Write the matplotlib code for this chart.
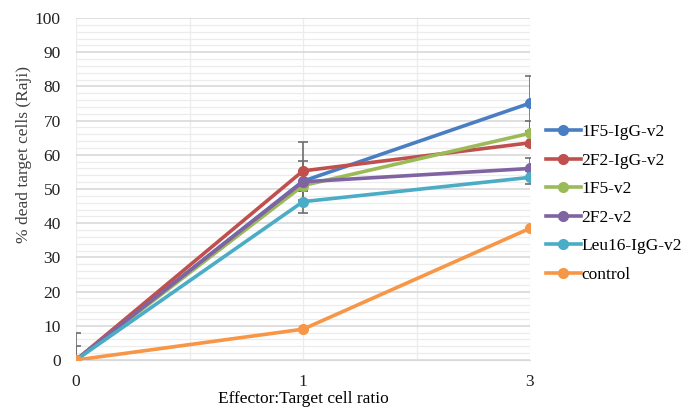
import matplotlib
matplotlib.use("Agg")
import matplotlib.pyplot as plt
from matplotlib.ticker import MultipleLocator
import numpy as np

ratios = ["0", "1", "3"]
series_names = ["1F5-IgG-v2", "2F2-IgG-v2", "1F5-v2", "2F2-v2", "Leu16-IgG-v2", "control"]
v_1F5_IgG = [0, 52.3, 75.1]
v_2F2_IgG = [0, 55.3, 63.5]
v_1F5 = [0, 51.0, 66.3]
v_2F2 = [0, 52.1, 56.0]
v_Leu16 = [0, 46.3, 53.4]
v_control = [0, 9.0, 38.5]
e_1F5_IgG = [8.0, 6.0, 8.0]
e_2F2_IgG = [4.0, 8.5, 0]
e_1F5 = [0, 0, 3.6]
e_2F2 = [0, 2.7, 3.0]
e_Leu16 = [0, 3.2, 2.0]
e_control = [0, 0, 0]

values = [v_1F5_IgG, v_2F2_IgG, v_1F5, v_2F2, v_Leu16, v_control]
errors = [e_1F5_IgG, e_2F2_IgG, e_1F5, e_2F2, e_Leu16, e_control]
colors = ["#4A7EC2", "#C0504D", "#9BBB59", "#8064A2", "#4BACC6", "#F79646"]

plt.rcParams['font.family'] = ['Liberation Serif', 'DejaVu Serif']

fig = plt.figure(figsize=(6.95, 4.12), dpi=100)
ax = fig.add_axes([76/695, 52/412, 454/695, 342/412])

x = np.arange(len(ratios))
for vals, errs in zip(values, errors):
    ax.errorbar(x, vals, yerr=errs, fmt='none', ecolor='#6e6e6e', elinewidth=1.2,
                capsize=3.5, capthick=1.2, zorder=2)
for name, vals, c in zip(series_names, values, colors):
    ax.plot(x, vals, color=c, lw=2.6, marker='o', ms=7, label=name, zorder=3)

ax.set_xlim(0, 2)
ax.set_ylim(0, 100)
ax.set_xticks(x)
ax.set_xticklabels(ratios)
ax.xaxis.set_minor_locator(MultipleLocator(0.5))
ax.yaxis.set_major_locator(MultipleLocator(10))
ax.yaxis.set_minor_locator(MultipleLocator(2))
ax.grid(which='major', axis='y', color='#d9d9d9', lw=1.2, zorder=0)
ax.grid(which='minor', axis='y', color='#ececec', lw=0.9, zorder=0)
ax.grid(which='both', axis='x', color='#ececec', lw=0.9, zorder=0)
ax.set_axisbelow(True)
for s in ax.spines.values():
    s.set_visible(False)
ax.spines['bottom'].set_visible(True)
ax.spines['bottom'].set_color('#d9d9d9')
ax.tick_params(which='both', length=0)
ax.tick_params(axis='y', labelsize=12.5, pad=11)
ax.tick_params(axis='x', labelsize=12.5, pad=10)
ax.set_ylabel('% dead target cells (Raji)', fontsize=12.5, color='#404040')
ax.yaxis.set_label_coords(-0.098, 0.60)
ax.set_xlabel('Effector:Target cell ratio', fontsize=12.5, labelpad=1)
for lab in ax.get_xticklabels() + ax.get_yticklabels():
    lab.set_color('#222222')

leg = ax.legend(loc='upper left', bbox_to_anchor=(1.02, 0.71), frameon=False,
                fontsize=12.5, handlelength=2.0, handletextpad=0.05, labelspacing=0.71,
                borderaxespad=0)

fig.savefig('out.png', dpi=100)
